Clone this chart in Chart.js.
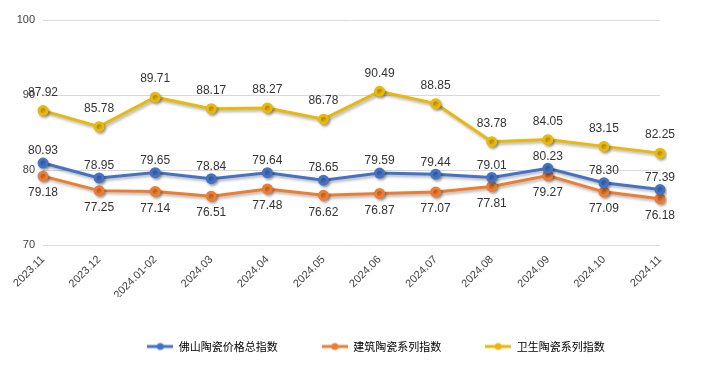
<!DOCTYPE html>
<html><head><meta charset="utf-8">
<script src="https://cdn.jsdelivr.net/npm/chart.js@4"></script>
<style>html,body{margin:0;padding:0;background:#fff}#wrap{width:705px;height:371px}</style>
</head><body><div id="wrap"><canvas id="c" width="705" height="371"></canvas></div>
<script>
const categories = ["2023.11","2023.12","2024.01-02","2024.03","2024.04","2024.05","2024.06","2024.07","2024.08","2024.09","2024.10","2024.11"];
const totalIndex = [80.93,78.95,79.65,78.84,79.64,78.65,79.59,79.44,79.01,80.23,78.30,77.39];
const buildingIndex = [79.18,77.25,77.14,76.51,77.48,76.62,76.87,77.07,77.81,79.27,77.09,76.18];
const sanitaryIndex = [87.92,85.78,89.71,88.17,88.27,86.78,90.49,88.85,83.78,84.05,83.15,82.25];
const seriesNames = ["佛山陶瓷价格总指数","建筑陶瓷系列指数","卫生陶瓷系列指数"];
const yTicks = [70,80,90,100];

const colors = ["#4472C4","#ED7D31","#E9B80C"];
const labelOffsets = [-12, 17, -18];

function legendIcon(color){
  const c = document.createElement('canvas'); c.width = 26; c.height = 10;
  const x = c.getContext('2d');
  x.strokeStyle = color; x.lineWidth = 3;
  x.beginPath(); x.moveTo(0,5); x.lineTo(26,5); x.stroke();
  x.fillStyle = color; x.beginPath(); x.arc(13,5,3.5,0,Math.PI*2); x.fill();
  return c;
}

const shadowPlugin = {
  id:'shadow',
  beforeDatasetDraw(chart){ const ctx=chart.ctx; ctx.save(); ctx.shadowColor='rgba(0,0,0,0.3)'; ctx.shadowBlur=3; ctx.shadowOffsetX=1.5; ctx.shadowOffsetY=2; },
  afterDatasetDraw(chart){ chart.ctx.restore(); }
};
const legendShift = {
  id:'legendShift',
  afterLayout(chart){ if(chart.legend){ chart.legend.left += 46; chart.legend.right += 46; } }
};
const labelPlugin = {
  id:'vlabels',
  afterDatasetsDraw(chart){
    const ctx = chart.ctx;
    ctx.save();
    ctx.font = '12px "Liberation Sans", Arial, sans-serif';
    ctx.fillStyle = '#333333';
    ctx.textAlign = 'center'; ctx.textBaseline = 'middle';
    chart.data.datasets.forEach((ds,i)=>{
      const meta = chart.getDatasetMeta(i);
      meta.data.forEach((pt,j)=>{
        ctx.fillText(ds.data[j].toFixed(2), pt.x, pt.y + labelOffsets[i]);
      });
    });
    ctx.restore();
  }
};

const allSeries = [totalIndex, buildingIndex, sanitaryIndex];
new Chart(document.getElementById('c'), {
  type:'line',
  data:{
    labels: categories,
    datasets: allSeries.map((d,i)=>({
      label: seriesNames[i], data: d,
      borderColor: colors[i], backgroundColor: colors[i],
      borderWidth: 3, pointRadius: 4, pointHoverRadius: 4,
      pointBackgroundColor: colors[i], pointBorderColor: colors[i],
      pointStyle: 'circle', tension: 0
    }))
  },
  options:{
    responsive:false, animation:false,
    layout:{padding:{left:0,right:45,top:20,bottom:9}},
    plugins:{
      tooltip:{enabled:false},
      legend:{
        position:'bottom',
        labels:{
          font:{size:11, family:'"Noto Sans CJK SC", sans-serif'},
          color:'#404040', padding:44, usePointStyle:true, pointStyleWidth:26,
          generateLabels(chart){
            return chart.data.datasets.map((ds,i)=>({
              text: ds.label, pointStyle: legendIcon(colors[i]),
              fillStyle: colors[i], strokeStyle: colors[i], lineWidth:0, datasetIndex:i, hidden:false
            }));
          }
        }
      }
    },
    scales:{
      x:{
        offset:false,
        grid:{display:false, drawTicks:false},
        border:{display:false},
        ticks:{minRotation:45, maxRotation:45, autoSkip:false, color:'#404040', padding:8,
          font:{size:11, family:'"Liberation Sans", Arial, sans-serif'}},
        afterFit(s){ s.height = 52; }
      },
      y:{
        min:70, max:100,
        afterBuildTicks(s){ s.ticks = yTicks.map(v=>({value:v})); },
        grid:{color:'#D9D9D9', lineWidth:1, drawTicks:false},
        border:{display:false},
        ticks:{color:'#404040', padding:8, font:{size:11, family:'"Liberation Sans", Arial, sans-serif'}},
        afterFit(s){ s.width = 43; }
      }
    }
  },
  plugins:[shadowPlugin, labelPlugin, legendShift]
});
</script>
</body></html>
